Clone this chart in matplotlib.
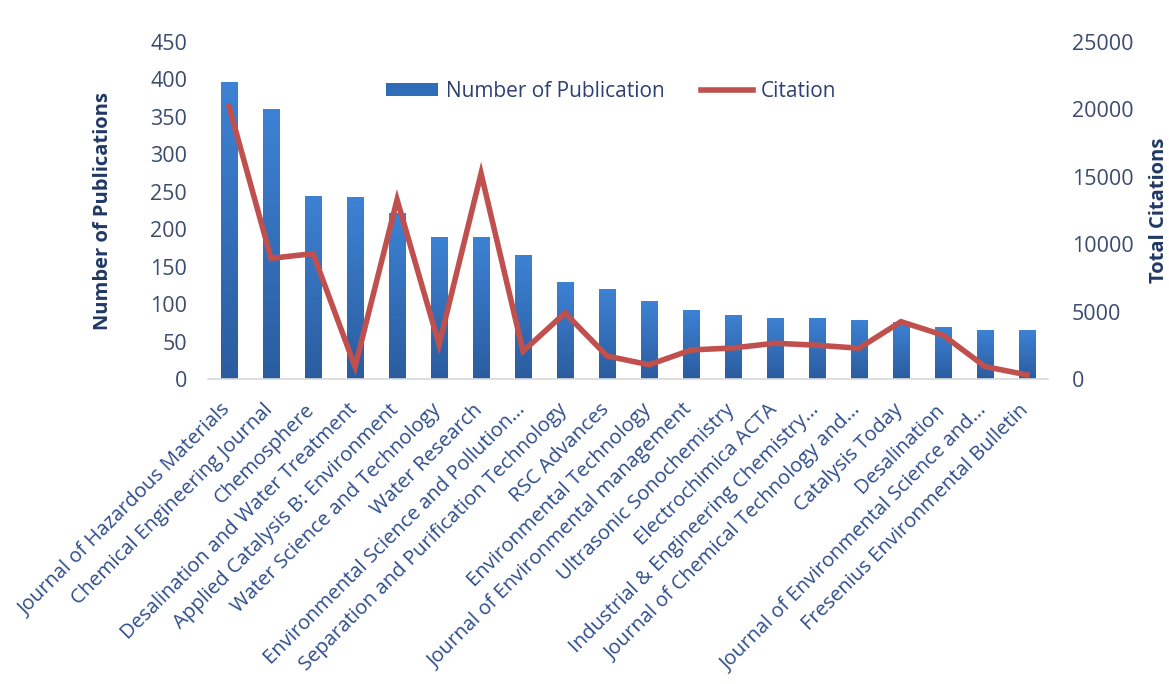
import numpy as np
import matplotlib.pyplot as plt
import matplotlib.transforms as mtransforms
from matplotlib.lines import Line2D
from matplotlib.patches import Patch

plt.rcParams['font.family'] = ['Open Sans', 'DejaVu Sans']

journals = [
    "Journal of Hazardous Materials", "Chemical Engineering Journal", "Chemosphere",
    "Desalination and Water Treatment", "Applied Catalysis B: Environment",
    "Water Science and Technology", "Water Research",
    "Environmental Science and Pollution...", "Separation and Purification Technology",
    "RSC Advances", "Environmental Technology", "Journal of Environmental management",
    "Ultrasonic Sonochemistry", "Electrochimica ACTA", "Industrial & Engineering Chemistry...",
    "Journal of Chemical Technology and...", "Catalysis Today", "Desalination",
    "Journal of Environmental Science and...", "Fresenius Environmental Bulletin",
]
publications = [397, 360, 245, 243, 222, 190, 189, 165, 129, 120,
                104, 92, 86, 82, 82, 79, 76, 69, 65, 65]
citations = [20200, 8950, 9300, 900, 13300, 2550, 15250, 2050, 4900, 1700,
             1050, 2150, 2300, 2650, 2500, 2280, 4250, 3250, 920, 300]

tick_col = '#3B4C6E'
xlab_col = '#2E4D8C'
label_col = '#203864'
bar_col = '#2F6DB8'
line_col = '#C0504D'

fig = plt.figure(figsize=(11.69, 6.84), dpi=100)
ax = fig.add_axes([0.178, 0.446, 0.7185, 0.4925])
ax2 = ax.twinx()

x = np.arange(len(journals))
bars = ax.bar(x, publications, width=0.4, color=bar_col, zorder=2)

# vertical gradient inside each bar (lighter top, darker bottom)
grad = np.linspace(0, 1, 256).reshape(-1, 1)
cmap = plt.matplotlib.colors.LinearSegmentedColormap.from_list('g', ['#2B5C9F', '#3D82D4'])
for b in bars:
    x0, w, h = b.get_x(), b.get_width(), b.get_height()
    im = ax.imshow(grad, extent=[x0, x0 + w, 0, h], origin='lower', cmap=cmap,
                   aspect='auto', zorder=2)
    im.set_clip_path(b)

ax.set_xlim(-0.5, len(journals) - 0.5)
ax.set_ylim(0, 450)
ax.set_yticks(np.arange(0, 451, 50))
ax2.set_ylim(0, 25000)
ax2.set_yticks(np.arange(0, 25001, 5000))

ax2.plot(x, citations, color=line_col, lw=4, solid_joinstyle='miter', zorder=3)

for a in (ax, ax2):
    for s in a.spines.values():
        s.set_visible(False)
    a.tick_params(axis='y', length=0, labelsize=15.5, labelcolor=tick_col)
ax.tick_params(axis='y', pad=15)
ax2.tick_params(axis='y', pad=17)
ax.spines['bottom'].set_visible(True)
ax.spines['bottom'].set_color('#D9D9D9')
ax.spines['bottom'].set_linewidth(1.2)

ax.set_xticks(x)
ax.set_xticklabels(journals, rotation=45, ha='right', va='top', fontsize=14.6,
                   color=xlab_col)
ax.tick_params(axis='x', length=0, pad=13)
shift = mtransforms.ScaledTranslation(6 / 100, -3 / 100, fig.dpi_scale_trans)
for lbl in ax.get_xticklabels():
    lbl.set_transform(lbl.get_transform() + shift)

ax.set_ylabel('Number of Publications', fontsize=14.5, fontweight='bold',
              color=label_col, labelpad=27)
ax2.set_ylabel('Total Citations', fontsize=14.5, fontweight='bold',
               color=label_col, rotation=90, labelpad=11)

handles = [Patch(facecolor=bar_col, edgecolor='none'),
           Line2D([0], [0], color=line_col, lw=4)]
ax.legend(handles, ['Number of Publication', 'Citation'], loc='upper center',
          bbox_to_anchor=(0.48, 0.94), ncol=2, frameon=False, fontsize=15,
          labelcolor='#2E4070', handlelength=2.5, handleheight=0.55,
          columnspacing=1.7, handletextpad=0.4)

fig.savefig('out.png', dpi=100)
